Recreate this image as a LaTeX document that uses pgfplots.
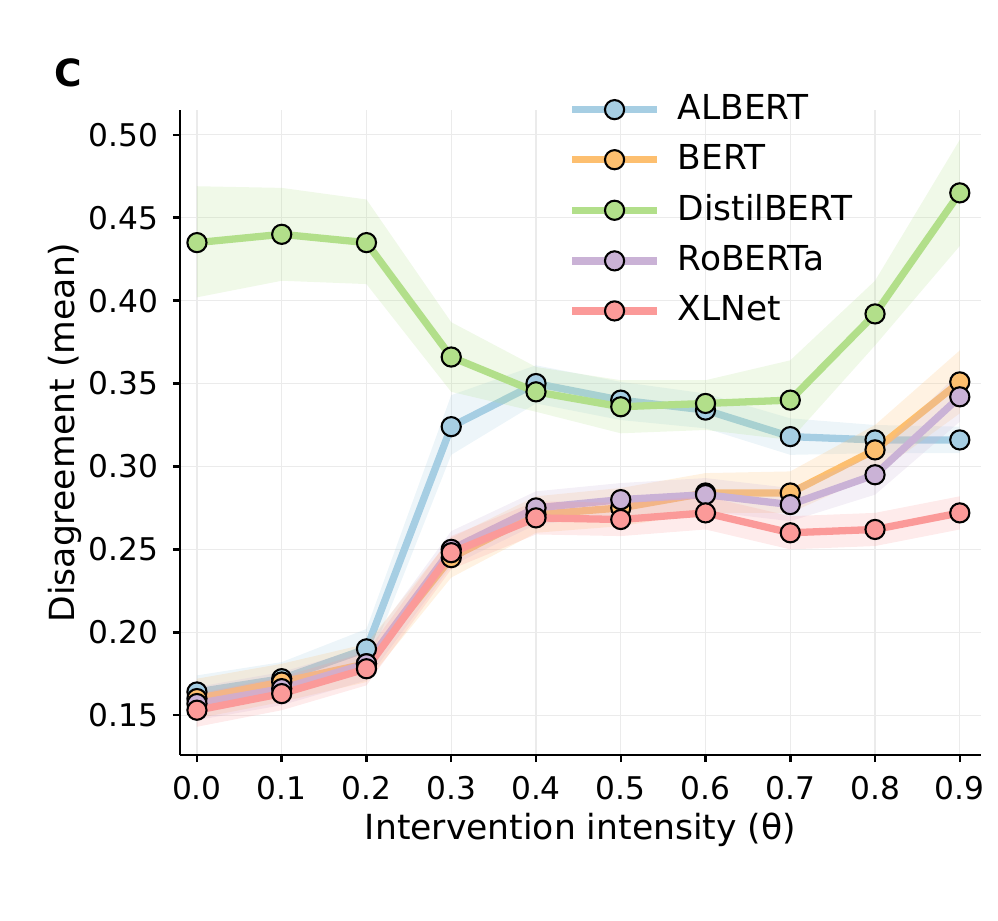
\documentclass[border=0pt]{standalone}
\usepackage{pgfplots}
\pgfplotsset{compat=1.18}
\usepackage{pgfplotstable}
\usepackage{fontspec}
\setmainfont{DejaVu Sans}

\definecolor{cA}{HTML}{A6CEE3}
\definecolor{cB}{HTML}{FDBF6F}
\definecolor{cD}{HTML}{B2DF8A}
\definecolor{cR}{HTML}{CAB2D6}
\definecolor{cX}{HTML}{FB9A99}

% means
\pgfplotstableread{
x albert bert distil roberta xlnet
0.0 0.164 0.160 0.435 0.157 0.153
0.1 0.172 0.170 0.440 0.166 0.163
0.2 0.190 0.181 0.435 0.181 0.178
0.3 0.324 0.245 0.366 0.250 0.248
0.4 0.350 0.271 0.345 0.275 0.269
0.5 0.340 0.275 0.336 0.280 0.268
0.6 0.334 0.284 0.338 0.283 0.272
0.7 0.318 0.284 0.340 0.277 0.260
0.8 0.316 0.310 0.392 0.295 0.262
0.9 0.316 0.351 0.465 0.342 0.272
}\means

% shaded bands: upper edge left to right, then lower edge right to left
\pgfplotstableread{
x albert bert distil roberta xlnet
0.0 0.174 0.172 0.469 0.167 0.163
0.1 0.182 0.181 0.468 0.176 0.173
0.2 0.202 0.193 0.461 0.191 0.188
0.3 0.343 0.257 0.387 0.261 0.258
0.4 0.361 0.282 0.360 0.285 0.279
0.5 0.351 0.287 0.352 0.290 0.278
0.6 0.344 0.296 0.352 0.293 0.282
0.7 0.329 0.297 0.364 0.287 0.270
0.8 0.325 0.325 0.412 0.307 0.272
0.9 0.324 0.370 0.497 0.357 0.282
0.9 0.308 0.332 0.433 0.327 0.262
0.8 0.308 0.295 0.373 0.283 0.252
0.7 0.307 0.272 0.316 0.267 0.250
0.6 0.323 0.272 0.322 0.273 0.262
0.5 0.328 0.264 0.320 0.270 0.258
0.4 0.338 0.260 0.333 0.265 0.259
0.3 0.307 0.233 0.345 0.240 0.238
0.2 0.178 0.170 0.410 0.171 0.168
0.1 0.162 0.158 0.412 0.156 0.153
0.0 0.154 0.148 0.402 0.147 0.143
}\bands

\begin{document}
\begin{tikzpicture}
\path[use as bounding box] (-43.2pt,-39.84pt) rectangle (196.32pt,181.2pt);
\begin{axis}[
    at={(0,0)}, anchor=south west,
    scale only axis,
    width=192.24pt, height=154.8pt,
    xmin=-0.02, xmax=0.925,
    ymin=0.126, ymax=0.515,
    axis lines=left,
    axis line style={-, line width=0.6pt},
    tick align=outside,
    major tick length=1.7pt,
    tick style={black, line width=0.6pt},
    xtick={0,0.1,0.2,0.3,0.4,0.5,0.6,0.7,0.8,0.9},
    ytick={0.15,0.2,0.25,0.3,0.35,0.4,0.45,0.5},
    xticklabel style={/pgf/number format/.cd, fixed, fixed zerofill, precision=1},
    yticklabel style={/pgf/number format/.cd, fixed, fixed zerofill, precision=2},
    /pgf/number format/assume math mode=true,
    tick label style={font=\fontsize{7.5}{9}\selectfont},
    label style={font=\fontsize{8.3}{10}\selectfont},
    grid=major,
    major grid style={color=black!8, line width=0.3pt},
    xlabel={Intervention intensity (θ)},
    ylabel={Disagreement (mean)},
    xlabel style={at={(axis description cs:0.5,-0.116)}, anchor=center},
    ylabel style={at={(axis description cs:-0.1436,0.5)}, anchor=center},
    legend cell align=left,
    legend image code/.code={
      \draw[#1, mark=none] (0pt,0pt) -- (20.2pt,0pt);
      \draw[#1, only marks] plot coordinates {(10.1pt,0pt)};
    },
    legend style={draw=none, fill=none, at={(axis description cs:0.4844,1.039)},
      anchor=north west, inner sep=0pt, row sep=0.5pt,
      font=\fontsize{8.25}{9.9}\selectfont,
      /tikz/every odd column/.append style={column sep=2.2pt}},
    every axis plot/.append style={line width=1.75pt, mark=*, mark size=2.3pt},
]
\addplot[fill=cA, fill opacity=0.2, draw=none, mark=none, forget plot] table[x=x,y=albert]{\bands};
\addplot[color=cA, mark options={fill=cA, draw=black, line width=0.5pt}] table[x=x,y=albert]{\means};
\addlegendentry{ALBERT}
\addplot[fill=cB, fill opacity=0.2, draw=none, mark=none, forget plot] table[x=x,y=bert]{\bands};
\addplot[color=cB, mark options={fill=cB, draw=black, line width=0.5pt}] table[x=x,y=bert]{\means};
\addlegendentry{BERT}
\addplot[fill=cD, fill opacity=0.2, draw=none, mark=none, forget plot] table[x=x,y=distil]{\bands};
\addplot[color=cD, mark options={fill=cD, draw=black, line width=0.5pt}] table[x=x,y=distil]{\means};
\addlegendentry{DistilBERT}
\addplot[fill=cR, fill opacity=0.2, draw=none, mark=none, forget plot] table[x=x,y=roberta]{\bands};
\addplot[color=cR, mark options={fill=cR, draw=black, line width=0.5pt}] table[x=x,y=roberta]{\means};
\addlegendentry{RoBERTa}
\addplot[fill=cX, fill opacity=0.2, draw=none, mark=none, forget plot] table[x=x,y=xlnet]{\bands};
\addplot[color=cX, mark options={fill=cX, draw=black, line width=0.5pt}] table[x=x,y=xlnet]{\means};
\addlegendentry{XLNet}
\end{axis}
\node[font=\bfseries\fontsize{9}{10.8}\selectfont] at (-26.9pt,163.7pt) {C};
\end{tikzpicture}
\end{document}
